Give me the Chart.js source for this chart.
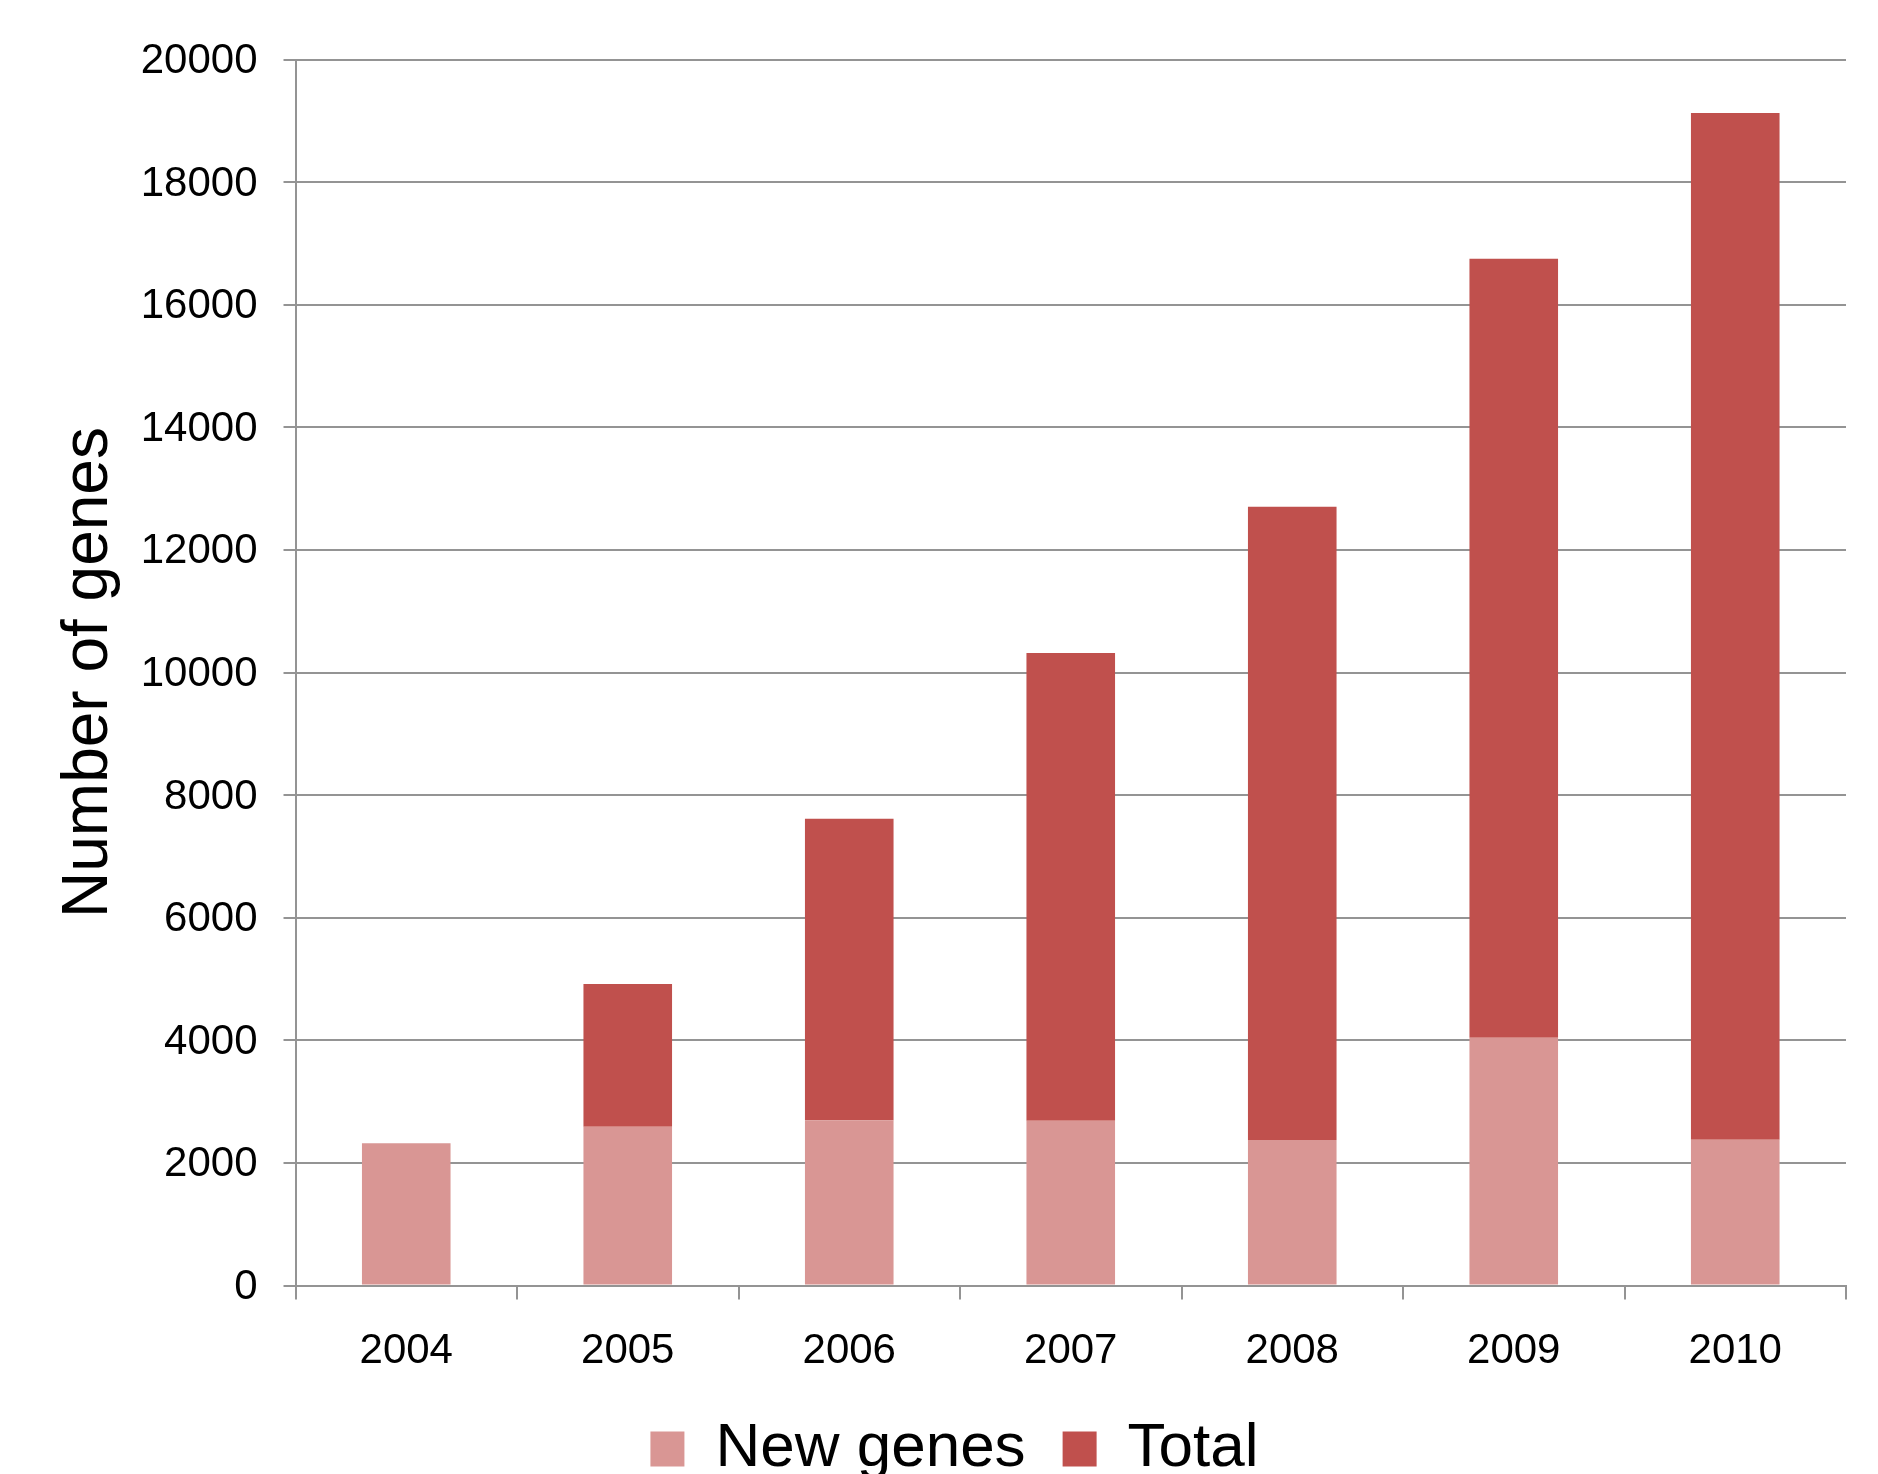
<!DOCTYPE html>
<html>
<head>
<meta charset="utf-8">
<script src="https://cdn.jsdelivr.net/npm/chart.js@4/dist/chart.umd.min.js"></script>
<style>
  html, body { margin: 0; padding: 0; background: #ffffff; overflow: hidden; }
  canvas { display: block; }
</style>
</head>
<body>
<canvas id="chart" width="1878" height="1474"></canvas>
<script>
// Gene counts per year
const years = ['2004', '2005', '2006', '2007', '2008', '2009', '2010'];
const newGenes = [2320, 2591, 2695, 2688, 2374, 4042, 2378];
const total = [0, 2327, 4920, 7630, 10331, 12708, 16749];
const yTicks = [0, 2000, 4000, 6000, 8000, 10000, 12000, 14000, 16000, 18000, 20000];

const FONT = "'Liberation Sans', Arial, Helvetica, sans-serif";
const GRID = '#949494';

Chart.defaults.font.family = FONT;
Chart.defaults.color = '#000000';

new Chart(document.getElementById('chart'), {
  type: 'bar',
  data: {
    labels: years,
    datasets: [
      {
        label: 'New genes',
        data: newGenes,
        backgroundColor: '#D99694',
        borderWidth: 0,
        barPercentage: 0.4,
        categoryPercentage: 1.0
      },
      {
        label: 'Total',
        data: total,
        backgroundColor: '#C0504D',
        borderWidth: 0,
        barPercentage: 0.4,
        categoryPercentage: 1.0
      }
    ]
  },
  options: {
    responsive: false,
    animation: false,
    devicePixelRatio: 1,
    layout: {
      padding: { left: 63, right: 32, top: 59.5, bottom: -16 }
    },
    plugins: {
      tooltip: { enabled: false },
      title: { display: false },
      legend: {
        display: true,
        position: 'bottom',
        labels: {
          font: { size: 62, family: FONT },
          color: '#000000',
          boxWidth: 34,
          boxHeight: 35,
          padding: 37
        }
      }
    },
    scales: {
      x: {
        stacked: true,
        offset: true,
        grid: {
          display: true,
          drawOnChartArea: false,
          drawTicks: true,
          tickLength: 14,
          color: GRID,
          lineWidth: 2
        },
        border: { display: true, color: GRID, width: 2 },
        ticks: {
          font: { size: 42, family: FONT },
          color: '#000000',
          padding: 26.5,
          maxRotation: 0,
          autoSkip: false
        },
        afterFit: (scale) => { scale.height = 95.5; }
      },
      y: {
        stacked: true,
        min: 0,
        max: 20000,
        afterBuildTicks: (scale) => {
          scale.ticks = yTicks.map(v => ({ value: v }));
        },
        grid: {
          display: true,
          drawTicks: true,
          tickLength: 12,
          color: GRID,
          lineWidth: 2
        },
        border: { display: true, color: GRID, width: 2 },
        ticks: {
          font: { size: 42, family: FONT },
          color: '#000000',
          padding: 26,
          labelOffset: 2,
          callback: (v) => String(v)
        },
        title: {
          display: true,
          text: 'Number of genes',
          font: { size: 64, family: FONT },
          color: '#000000',
          padding: { top: -12, bottom: 0 }
        },
        afterFit: (scale) => { scale.width = 232.5; }
      }
    }
  }
});
</script>
</body>
</html>
